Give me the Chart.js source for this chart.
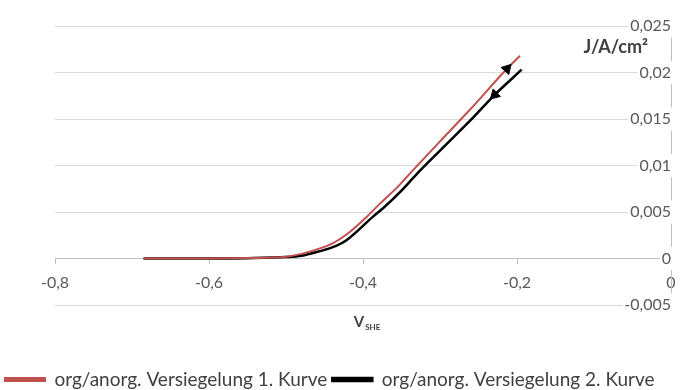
<!DOCTYPE html>
<html>
<head>
<meta charset="utf-8">
<script src="https://cdn.jsdelivr.net/npm/chart.js@4/dist/chart.umd.min.js"></script>
<style>
  html, body { margin: 0; padding: 0; background: #fff; }
  #wrap { width: 681px; height: 390px; }
</style>
</head>
<body>
<div id="wrap"><canvas id="c"></canvas></div>
<script>
// Potential (V vs. SHE) and current density (A/cm²) for both sweeps
const potential1 = [-0.685, -0.65, -0.6, -0.55, -0.5, -0.48, -0.465, -0.44, -0.421, -0.395, -0.378, -0.355, -0.335, -0.3, -0.26, -0.213, -0.196];
const current1   = [0, 0, 0, 0.00005, 0.0002, 0.0005, 0.00085, 0.0016, 0.0026, 0.0045, 0.0059, 0.0077, 0.0095, 0.0126, 0.0161, 0.0204, 0.0218];
const potential2 = [-0.685, -0.65, -0.6, -0.55, -0.5, -0.48, -0.465, -0.44, -0.421, -0.387, -0.374, -0.35, -0.33, -0.3, -0.26, -0.229, -0.194];
const current2   = [0, 0, 0, 0.00003, 0.00015, 0.0003, 0.0006, 0.0012, 0.002, 0.0045, 0.0054, 0.0073, 0.0091, 0.0116, 0.0149, 0.0176, 0.0203];

// Sweep direction markers sit on these potentials
const arrowAt1 = -0.213;
const arrowAt2 = -0.229;

const seriesNames = ['org/anorg. Versiegelung 1. Kurve', 'org/anorg. Versiegelung 2. Kurve'];
const seriesColors = ['#c0504d', '#000000'];

const xTicks = [-0.8, -0.6, -0.4, -0.2, 0];
const xTickLabels = ['-0,8', '-0,6', '-0,4', '-0,2', '0'];
const yTicks = [-0.005, 0, 0.005, 0.01, 0.015, 0.02, 0.025];
const yTickLabels = ['-0,005', '0', '0,005', '0,01', '0,015', '0,02', '0,025'];

const yTitle = 'J/A/cm²';
const xTitleMain = 'V';
const xTitleSub = 'SHE';

const toPoints = (xs, ys) => xs.map((x, i) => ({ x, y: ys[i] }));

// Marker pointing along the curve, in the sweep direction
function arrowOptions(arrowX, backwards) {
  return {
    pointStyle: 'triangle',
    pointRadius: c => (c.raw && c.raw.x === arrowX ? 6 : 0),
    pointHoverRadius: 0,
    pointBackgroundColor: '#000',
    pointBorderColor: '#000',
    pointBorderWidth: 1,
    pointRotation: c => {
      const data = c.dataset.data;
      const i = c.dataIndex;
      const sx = c.chart.scales.x, sy = c.chart.scales.y;
      if (!sx || !sy || i < 1 || i >= data.length - 1) return backwards ? 225 : 45;
      const dx = sx.getPixelForValue(data[i + 1].x) - sx.getPixelForValue(data[i - 1].x);
      const dy = sy.getPixelForValue(data[i + 1].y) - sy.getPixelForValue(data[i - 1].y);
      const a = Math.atan2(dx, -dy) * 180 / Math.PI;
      return backwards ? a + 180 : a;
    }
  };
}

const axisTitles = {
  id: 'axisTitles',
  afterDraw(chart) {
    const { ctx, chartArea: a } = chart;
    ctx.save();
    ctx.fillStyle = '#404040';
    ctx.textBaseline = 'alphabetic';
    ctx.font = 'bold 18px Lato';
    ctx.textAlign = 'right';
    ctx.fillText(yTitle, a.right - 23, a.top + 27);

    ctx.textAlign = 'left';
    ctx.font = 'bold 15px Lato';
    const wMain = ctx.measureText(xTitleMain).width;
    ctx.font = 'bold 8px Lato';
    const wSub = ctx.measureText(xTitleSub).width;
    const x0 = (a.left + a.right) / 2 - (wMain + wSub + 1) / 2 + 4;
    const base = a.bottom + 22;
    ctx.font = 'bold 15px Lato';
    ctx.fillText(xTitleMain, x0, base);
    ctx.font = 'bold 8px Lato';
    ctx.fillText(xTitleSub, x0 + wMain + 1, base + 3);
    ctx.restore();
  }
};

new Chart(document.getElementById('c'), {
  type: 'line',
  data: {
    datasets: [
      Object.assign({
        label: seriesNames[0],
        data: toPoints(potential1, current1),
        xAxisID: 'x',
        yAxisID: 'y',
        borderColor: seriesColors[0],
        backgroundColor: seriesColors[0],
        borderWidth: 2,
        cubicInterpolationMode: 'monotone',
        fill: false
      }, arrowOptions(arrowAt1, false)),
      Object.assign({
        label: seriesNames[1],
        data: toPoints(potential2, current2),
        xAxisID: 'x',
        yAxisID: 'y',
        borderColor: seriesColors[1],
        backgroundColor: seriesColors[1],
        borderWidth: 2.5,
        cubicInterpolationMode: 'monotone',
        fill: false
      }, arrowOptions(arrowAt2, true))
    ]
  },
  options: {
    responsive: true,
    maintainAspectRatio: false,
    animation: false,
    events: [],
    layout: { padding: { top: 26, right: 10, left: 0, bottom: -9 } },
    scales: {
      // empty margin on the left of the plot
      margin: {
        type: 'linear',
        axis: 'y',
        position: 'left',
        display: true,
        ticks: { display: false },
        grid: { display: false },
        border: { display: false },
        afterFit: s => { s.width = 55; }
      },
      x: {
        type: 'linear',
        position: { y: 0 },
        min: -0.8,
        max: 0,
        afterBuildTicks: s => { s.ticks = xTicks.map(v => ({ value: v })); },
        // end labels fit inside the layout padding
        afterFit: s => { s.paddingLeft = 0; s.paddingRight = 0; },
        ticks: {
          callback: (v, i) => xTickLabels[i],
          color: '#595959',
          font: { family: 'Lato', size: 16 },
          padding: 10,
          maxRotation: 0
        },
        grid: { display: true, drawOnChartArea: false, drawTicks: true, tickLength: 5, color: '#bfbfbf' },
        border: { display: true, color: '#bfbfbf', width: 1 }
      },
      y: {
        type: 'linear',
        position: { x: 0 },
        min: -0.005,
        max: 0.025,
        afterBuildTicks: s => { s.ticks = yTicks.map(v => ({ value: v })); },
        ticks: {
          padding: 14,
          callback: (v, i) => yTickLabels[i],
          color: '#595959',
          font: { family: 'Lato', size: 16 },
          showLabelBackdrop: true,
          backdropColor: '#ffffff',
          backdropPadding: 2
        },
        grid: { color: '#d9d9d9', drawTicks: false, lineWidth: 1 },
        border: { display: true, color: '#bfbfbf', width: 1 }
      }
    },
    plugins: {
      tooltip: { enabled: false },
      legend: {
        position: 'bottom',
        align: 'start',
        title: { display: true, text: '', font: { size: 10 }, padding: { top: 0, bottom: 48 } },
        labels: {
          boxWidth: 40,
          boxHeight: 3,
          padding: 5,
          color: '#404040',
          font: { family: 'Lato', size: 19 }
        }
      }
    }
  },
  plugins: [axisTitles]
});
</script>
</body>
</html>
